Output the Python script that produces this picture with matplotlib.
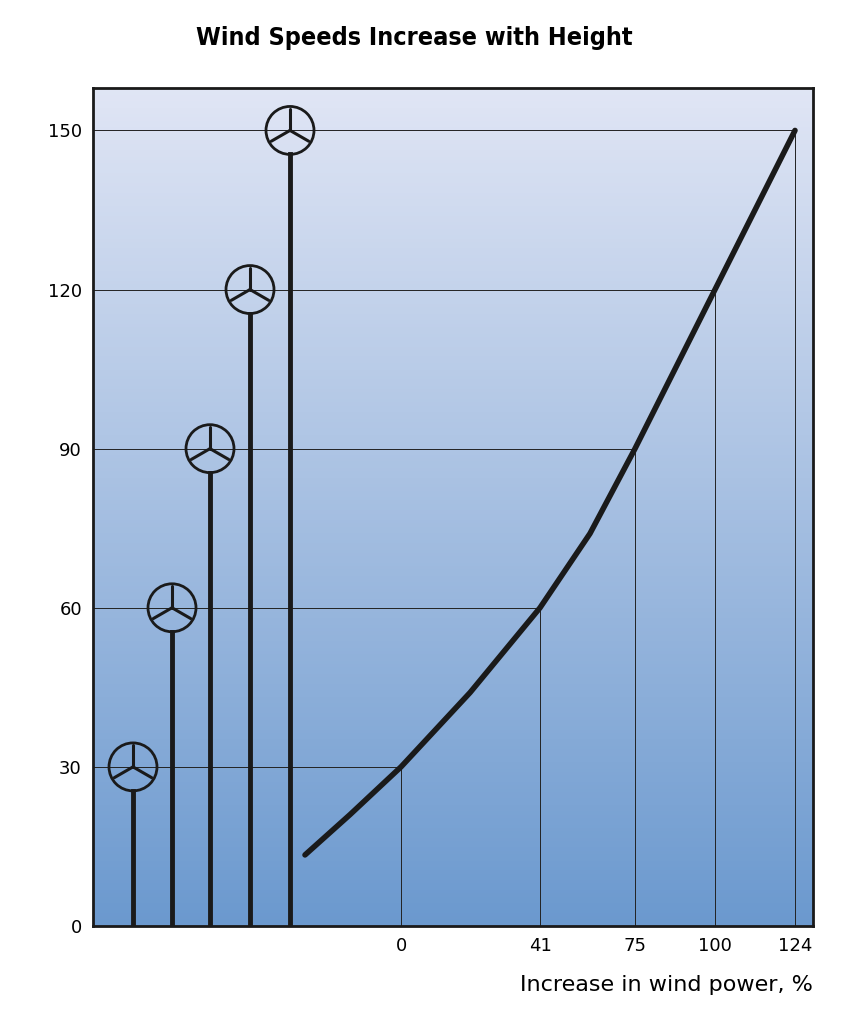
import numpy as np
import matplotlib

matplotlib.use("Agg")

import matplotlib.pyplot as plt
from matplotlib.patches import Ellipse

heights = [30, 60, 90, 120, 150]
turbine_x = [133, 172, 210, 250, 290]
power_labels = ["0", "41", "75", "100", "124"]
power_x = [401, 540, 635, 715, 795]
curve_x = [305, 350, 401, 470, 540, 590, 635, 675, 715, 755, 795]
curve_y = [13.4, 21, 30, 44, 60, 74, 90, 105, 120, 135, 150]

fig = plt.figure(figsize=(8.64, 10.26), dpi=100)
ax = fig.add_axes([93 / 864, 100 / 1026, 720 / 864, 838 / 1026])
x0, x1, y0, y1 = 93, 813, 0, 158
ax.set_xlim(x0, x1)
ax.set_ylim(y0, y1)

# background gradient
top = np.array([0.88, 0.90, 0.96])
bot = np.array([0.42, 0.60, 0.81])
t = np.linspace(0, 1, 256)[:, None]
grad = (bot * (1 - t) + top * t)[:, None, :]
ax.imshow(grad, extent=[x0, x1, y0, y1], origin="lower", aspect="auto", zorder=0)

# grid lines from the left axis to the curve, then down
for h, px in zip(heights, power_x):
    ax.plot([x0, px], [h, h], color="#222222", lw=0.7, zorder=1)
    ax.plot([px, px], [0, h], color="#222222", lw=0.7, zorder=1)

ax.plot(curve_x, curve_y, color="#1a1a1a", lw=4, solid_capstyle="round", zorder=3)

rx, ry = 24, 24 / 5.31
for tx, h in zip(turbine_x, heights):
    ax.plot([tx, tx], [0, h - ry], color="#1a1a1a", lw=3.5, zorder=3)
    ax.add_patch(Ellipse((tx, h), 2 * rx, 2 * ry, facecolor="none",
                         edgecolor="#1a1a1a", lw=2, zorder=4))
    for ang in [90, 210, 330]:
        a = np.deg2rad(ang)
        ax.plot([tx, tx + 0.9 * rx * np.cos(a)], [h, h + 0.9 * ry * np.sin(a)],
                color="#1a1a1a", lw=2.2, solid_capstyle="round", zorder=4)

ax.set_yticks([0, 30, 60, 90, 120, 150])
ax.set_xticks(power_x)
ax.set_xticklabels(power_labels)
ax.tick_params(length=0, labelsize=13, pad=8)
for s in ax.spines.values():
    s.set_linewidth(2)
    s.set_color("#1a1a1a")

ax.set_xlabel("Increase in wind power, %", fontsize=16, loc="right", labelpad=14)
fig.text(0.48, 1 - 38 / 1026, "Wind Speeds Increase with Height", ha="center",
         va="center", fontsize=18, weight="bold", fontstretch="condensed")

fig.savefig("out.png", dpi=100)
